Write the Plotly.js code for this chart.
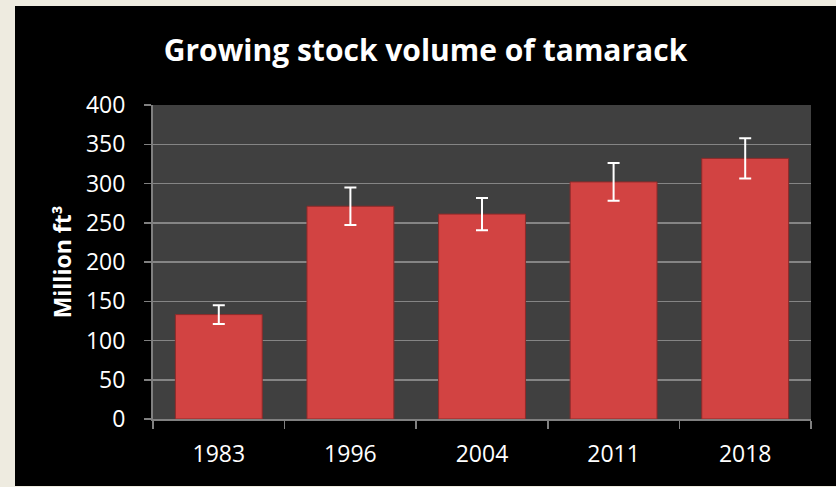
<!DOCTYPE html>
<html>
<head>
<meta charset="utf-8">
<script src="https://cdn.plot.ly/plotly-3.0.1.min.js"></script>
<style>
  html, body { margin: 0; padding: 0; background: #EEEBE0; width: 836px; height: 487px; overflow: hidden; }
  #chart { position: absolute; left: 15px; top: 6px; width: 821px; height: 480px; }
</style>
</head>
<body>
<div id="chart"></div>
<script>
const years = ['1983', '1996', '2004', '2011', '2018'];
const volume = [133, 271, 261, 302, 332];
const volumeError = [12, 24, 20.5, 24, 25.5];
const yTicks = [0, 50, 100, 150, 200, 250, 300, 350, 400];

const trace = {
  type: 'bar',
  x: years,
  y: volume,
  marker: { color: '#D24342', line: { color: '#8E2A29', width: 1 } },
  error_y: { type: 'data', array: volumeError, visible: true, color: '#FFFFFF', thickness: 2, width: 6 },
  hoverinfo: 'x+y'
};

const layout = {
  width: 821,
  height: 480,
  paper_bgcolor: '#000000',
  plot_bgcolor: '#404040',
  margin: { l: 138, r: 25, t: 99, b: 67 },
  bargap: 0.34,
  showlegend: false,
  font: { family: 'Open Sans, sans-serif', color: '#FFFFFF' },
  title: {
    text: 'Growing stock volume of tamarack',
    font: { family: 'Open Sans, sans-serif', size: 30, color: '#FFFFFF', weight: 'bold' },
    x: 0.5, xref: 'container', xanchor: 'center',
    y: 1 - 44 / 480, yref: 'container', yanchor: 'middle'
  },
  xaxis: {
    type: 'category',
    tickson: 'boundaries',
    ticks: 'outside', ticklen: 8, tickwidth: 1.5, tickcolor: '#808080',
    showline: true, linecolor: '#808080', linewidth: 2,
    showgrid: false, zeroline: false,
    tickfont: { size: 23, color: '#FFFFFF' },
    ticklabelstandoff: 13
  },
  yaxis: {
    range: [0, 400],
    tickvals: yTicks,
    ticktext: yTicks.map(String),
    ticks: 'outside', ticklen: 7, tickwidth: 1.5, tickcolor: '#808080',
    showline: true, linecolor: '#808080', linewidth: 2,
    showgrid: true, gridcolor: '#858585', gridwidth: 1.5,
    zeroline: false,
    tickfont: { size: 23, color: '#FFFFFF' },
    ticklabelstandoff: 14,
    title: { text: 'Million ft³', font: { size: 23, color: '#FFFFFF', weight: 'bold' }, standoff: 8 }
  }
};

Plotly.newPlot('chart', [trace], layout, { displayModeBar: false, staticPlot: true });
</script>
</body>
</html>
